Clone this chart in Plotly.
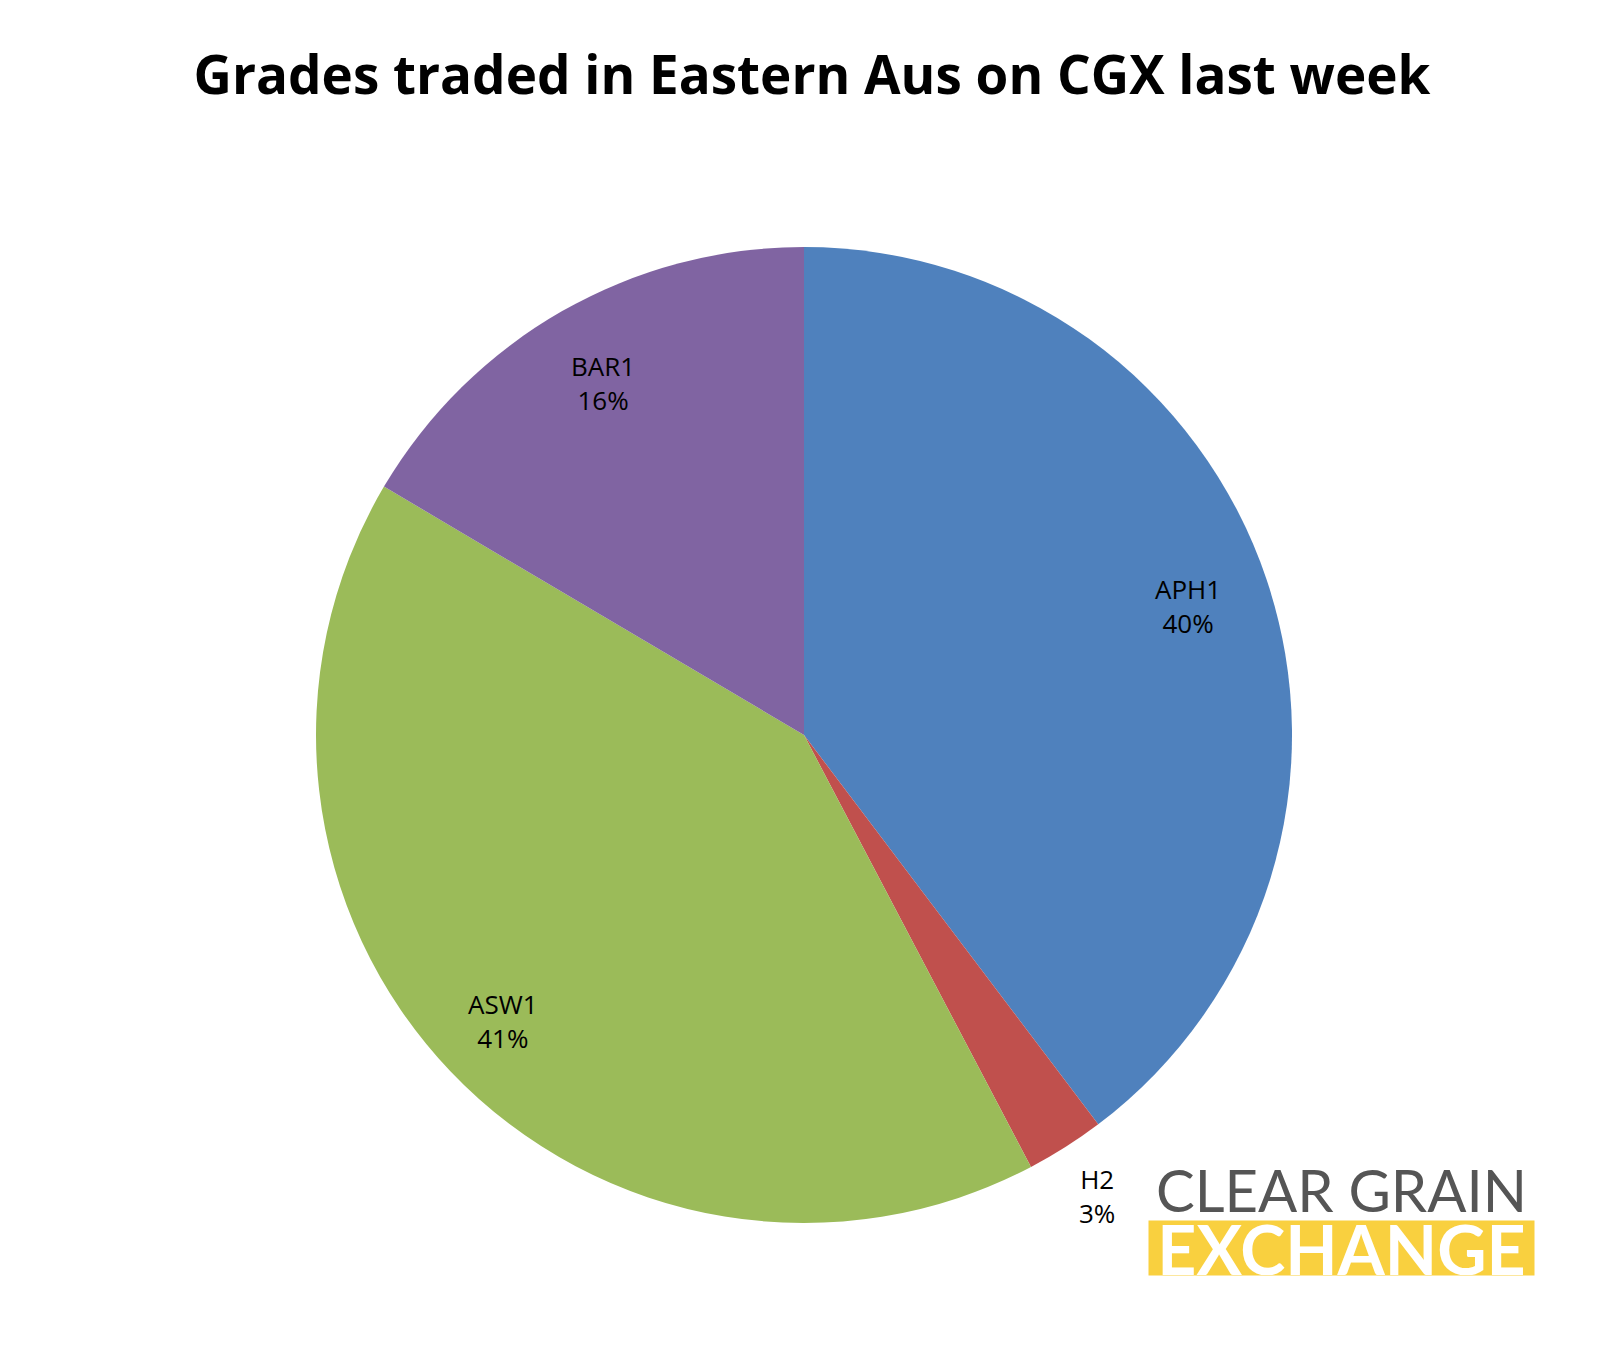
import math
import plotly.graph_objects as go

grades = ["APH1", "H2", "ASW1", "BAR1"]
shares = [39.7, 2.6, 41.2, 16.5]
pct_labels = ["40%", "3%", "41%", "16%"]
colors = ["#4F81BD", "#C0504D", "#9BBB59", "#8064A2"]
label_radius = [0.83, 1.12, 0.85, 0.83]  # fraction of pie radius

W, H = 1608, 1350
cx_px, cy_px, r_px = 796, 727, 488
dom_x = [(cx_px - r_px) / W, (cx_px + r_px) / W]
dom_y = [1 - (cy_px + r_px) / H, 1 - (cy_px - r_px) / H]

fig = go.Figure(go.Pie(
    labels=grades,
    values=shares,
    textinfo="none",
    sort=False,
    direction="clockwise",
    rotation=0,
    marker=dict(colors=colors, line=dict(width=0)),
    showlegend=False,
    domain=dict(x=dom_x, y=dom_y),
))

# slice labels placed at each slice's mid angle
annotations = []
total = sum(shares)
cum = 0
for g, v, p, f in zip(grades, shares, pct_labels, label_radius):
    mid = (cum + v / 2) / total * 2 * math.pi
    cum += v
    x = (cx_px + f * r_px * math.sin(mid)) / W
    y = 1 - (cy_px - f * r_px * math.cos(mid)) / H
    annotations.append(dict(text=f"{g}<br>{p}", x=x, y=y, xref="paper", yref="paper",
                            xanchor="center", yanchor="middle", showarrow=False,
                            font=dict(family="Open Sans", size=26, color="black")))

annotations += [
    dict(text="CLEAR GRAIN", x=0.829, y=0.125, xref="paper", yref="paper",
         xanchor="center", yanchor="middle", showarrow=False,
         font=dict(family="Lato", size=58, color="#555555")),
    dict(text="<b>EXCHANGE</b>", x=0.829, y=0.0815, xref="paper", yref="paper",
         xanchor="center", yanchor="middle", showarrow=False,
         bgcolor="#F9D03F", borderpad=0, height=54, width=385,
         font=dict(family="Lato", size=68, color="white")),
]

fig.update_layout(
    width=W, height=H,
    paper_bgcolor="white",
    margin=dict(l=0, r=0, t=0, b=0),
    title=dict(text="<b>Grades traded in Eastern Aus on CGX last week</b>",
               x=0.5, xanchor="center", y=0.95, yanchor="middle",
               font=dict(family="Open Sans", size=53, color="black")),
    annotations=annotations,
)

fig.write_html("out.html")
